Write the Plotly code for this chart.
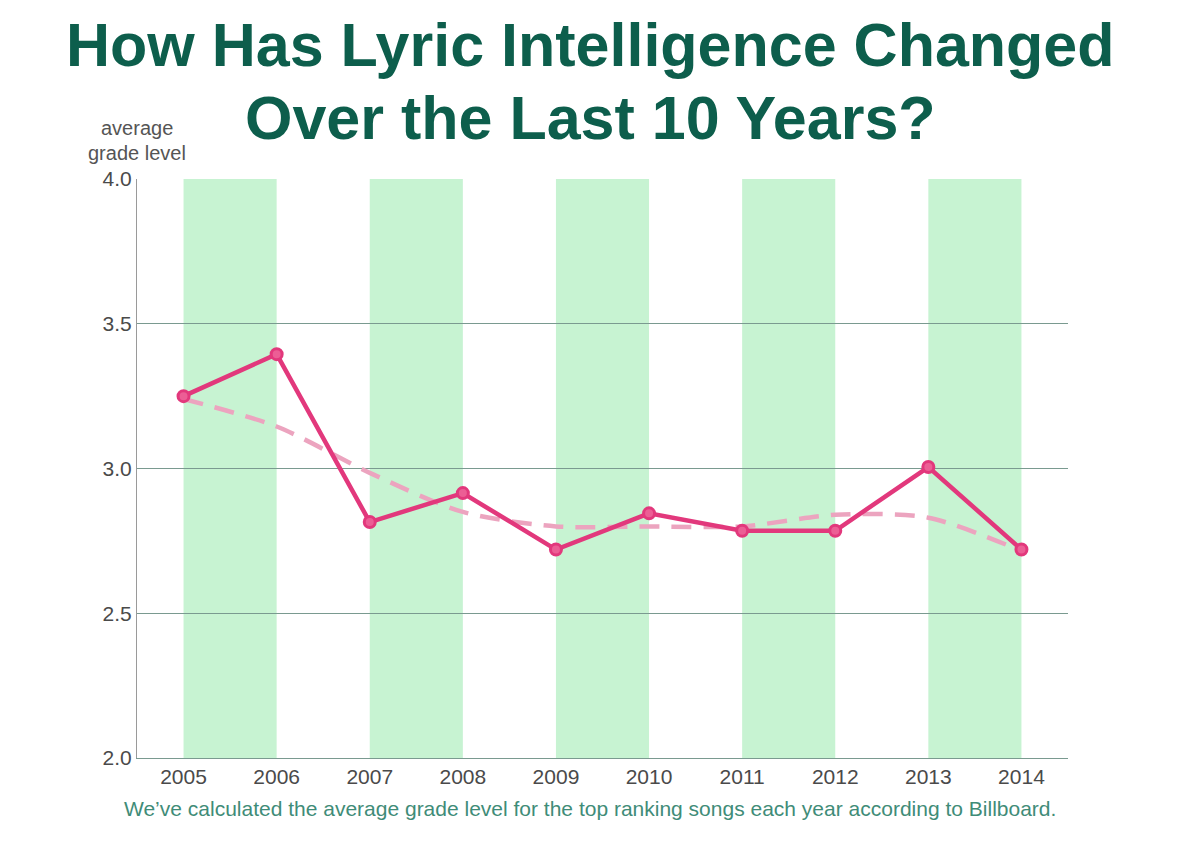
import plotly.graph_objects as go

years = [2005, 2006, 2007, 2008, 2009, 2010, 2011, 2012, 2013, 2014]
grade_level = [3.25, 3.395, 2.815, 2.915, 2.72, 2.845, 2.785, 2.785, 3.005, 2.72]
trend = [3.24, 3.145, 2.985, 2.85, 2.80, 2.80, 2.80, 2.84, 2.83, 2.715]
y_ticks = [2.0, 2.5, 3.0, 3.5, 4.0]

title_line1 = "How Has Lyric Intelligence Changed"
title_line2 = "Over the Last 10 Years?"
y_label_1 = "average"
y_label_2 = "grade level"
caption = "We\u2019ve calculated the average grade level for the top ranking songs each year according to Billboard."

TITLE_COLOR = "#0d5e4c"
PINK = "#e2387c"
PINK_LIGHT = "#eca4bf"
BAND = "#c7f3d2"
GRID = "#7a9a90"
TICK_COLOR = "#4a4a4a"
FONT = "Liberation Sans, Arial, sans-serif"

fig = go.Figure()

# alternating green bands, from every other year to the next
for y0 in years[::2]:
    fig.add_shape(type="rect", xref="x", yref="paper", x0=y0, x1=y0 + 1, y0=0, y1=1,
                  fillcolor=BAND, line_width=0, layer="below")

fig.add_trace(go.Scatter(
    x=years, y=trend, mode="lines",
    line=dict(color=PINK_LIGHT, width=4.5, dash="20px,12px", shape="spline", smoothing=0.8),
    hoverinfo="skip", showlegend=False))

fig.add_trace(go.Scatter(
    x=years, y=grade_level, mode="lines+markers",
    line=dict(color=PINK, width=4.5),
    marker=dict(size=11, color="#ec5e95", line=dict(color=PINK, width=3)),
    showlegend=False))

fig.update_layout(
    width=1192, height=836,
    paper_bgcolor="white", plot_bgcolor="rgba(0,0,0,0)",
    margin=dict(l=129, r=132, t=171, b=86),
    font=dict(family=FONT, color=TICK_COLOR),
)

fig.update_xaxes(range=[2004.5, 2014.5], tickmode="array", tickvals=years,
                 ticktext=[str(y) for y in years], showgrid=False,
                 showline=True, linecolor=GRID, linewidth=1.2, ticks="",
                 tickfont=dict(size=21, color=TICK_COLOR), zeroline=False)
fig.update_yaxes(range=[2, 4], tickmode="array", tickvals=y_ticks,
                 ticktext=[f"{v:.1f}" for v in y_ticks], showgrid=True,
                 gridcolor=GRID, gridwidth=1, showline=True, linecolor="#9a9a9a",
                 linewidth=1, ticks="", tickfont=dict(size=21, color=TICK_COLOR),
                 zeroline=False, layer="above traces")

fig.add_annotation(text="<b>" + title_line1 + "</b>", xref="paper", yref="paper", x=0.487, y=1,
                   yshift=134, xanchor="center", yanchor="middle", showarrow=False,
                   font=dict(size=61, color=TITLE_COLOR, family=FONT))
fig.add_annotation(text="<b>" + title_line2 + "</b>", xref="paper", yref="paper", x=0.487, y=1,
                   yshift=61, xanchor="center", yanchor="middle", showarrow=False,
                   font=dict(size=61, color=TITLE_COLOR, family=FONT))
fig.add_annotation(text=y_label_1, xref="paper", yref="paper", x=0, y=1,
                   yshift=51, xanchor="center", yanchor="middle", showarrow=False,
                   font=dict(size=20, color="#555555"))
fig.add_annotation(text=y_label_2, xref="paper", yref="paper", x=0, y=1,
                   yshift=26, xanchor="center", yanchor="middle", showarrow=False,
                   font=dict(size=20, color="#555555"))
fig.add_annotation(text=caption, xref="paper", yref="paper", x=0.487, y=0,
                   yshift=-50, xanchor="center", yanchor="middle", showarrow=False,
                   font=dict(size=21, color="#3f8c78"))

fig.write_html("out.html")
